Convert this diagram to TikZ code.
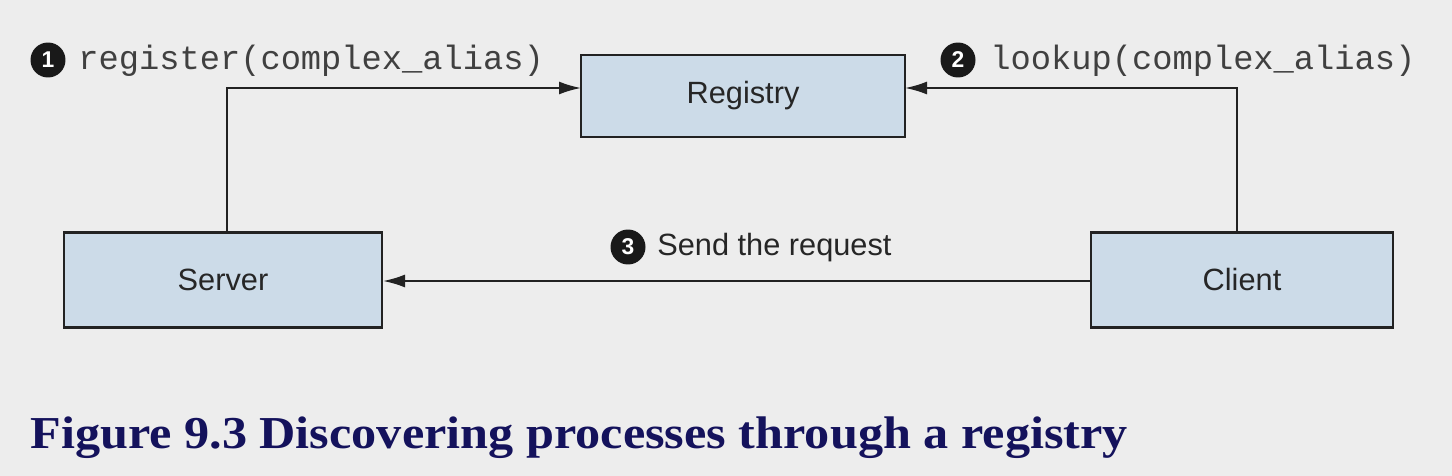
\documentclass[tikz,border=0pt]{standalone}
\usepackage{fontspec}
\setmainfont{Liberation Serif}
\setsansfont{Liberation Sans}
\setmonofont{Liberation Mono}
\usetikzlibrary{arrows.meta,positioning}
\definecolor{bgGrey}{RGB}{237,237,237}
\definecolor{boxBlue}{RGB}{204,219,232}
\definecolor{lineGrey}{RGB}{34,34,34}
\definecolor{capNavy}{RGB}{20,18,92}

\begin{document}
\begin{tikzpicture}[
    x=0.02cm, y=-0.02cm,
    box/.style={draw=lineGrey, line width=1.2pt, fill=boxBlue, align=center, font=\sffamily\fontsize{17.5}{20}\selectfont, text=black!85},
    badge/.style={circle, fill=black!90, text=white, inner sep=0pt, minimum size=0.7cm, font=\sffamily\bfseries\fontsize{13}{14}\selectfont},
    codelabel/.style={anchor=base west, inner sep=0pt, font=\ttfamily\fontsize{19.2}{22}\selectfont, text=black!75},
    textlabel/.style={anchor=base west, inner sep=0pt, font=\sffamily\fontsize{17.5}{20}\selectfont, text=black!85},
    arrow/.style={-{Latex[length=0.44cm, width=0.26cm]}, line width=1.1pt, draw=lineGrey}
  ]
    \fill[bgGrey] (0,0) rectangle (1452,476);
    \useasboundingbox (0,0) rectangle (1452,476);
    \node[box, minimum width=6.48cm, minimum height=1.64cm] (registry) at (743,96) {Registry};
    \node[box, minimum width=6.36cm, minimum height=1.9cm] (server) at (223,280) {Server};
    \node[box, minimum width=6.04cm, minimum height=1.9cm] (client) at (1242,280) {Client};
    \coordinate (regleft) at (581,88);
    \coordinate (regright) at (905,88);
    \coordinate (srvtop) at (227,232);
    \coordinate (clitop) at (1237,232);
    \node[badge] (b1) at (48,60) {1};
    \node[codelabel] (reg) at (78,70) {register(complex\_alias)};
    \node[badge] (b2) at (958,60) {2};
    \node[codelabel] (look) at (990,70) {lookup(complex\_alias)};
    \node[badge] (b3) at (628,247) {3};
    \node[textlabel] (send) at (657,255) {Send the request};
    \draw[arrow] (srvtop) |- (regleft);
    \draw[arrow] (clitop) |- (regright);
    \draw[arrow] (client.west |- 0,281) -- (server.east |- 0,281);
    \node[anchor=base west, inner sep=0pt, text=capNavy, font=\bfseries\fontsize{26}{30}\selectfont] (caption) at (30,448) {\scalebox{1.1}[1]{Figure 9.3 Discovering processes through a registry}};
  \end{tikzpicture}
\end{document}
